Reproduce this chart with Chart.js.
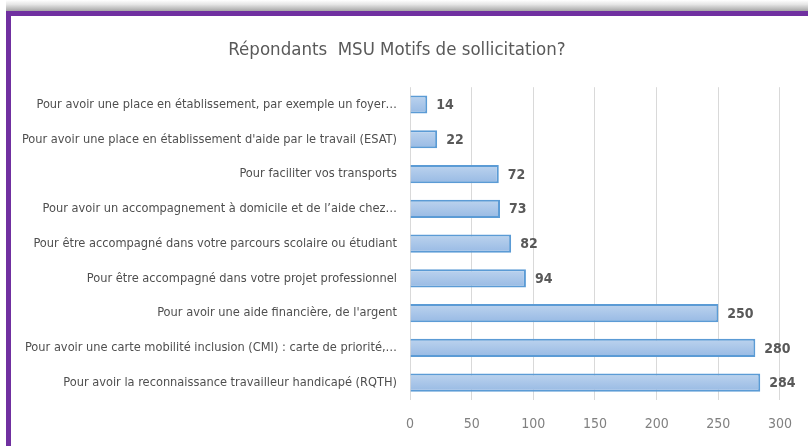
<!DOCTYPE html>
<html lang="fr">
<head>
<meta charset="utf-8">
<title>Répondants MSU Motifs de sollicitation?</title>
<script src="https://cdn.jsdelivr.net/npm/chart.js@4/dist/chart.umd.min.js"></script>
<style>
    html, body { margin: 0; padding: 0; background: #fff; }
    #wrap { position: relative; width: 808px; height: 446px; overflow: hidden; }
    /* grey shadow above the frame */
    #shadow {
        position: absolute; left: 6px; top: 0; width: 802px; height: 11px;
        background: linear-gradient(to bottom, #ffffff 0%, #e6e6e6 40%, #a6a6a6 100%);
    }
    /* purple frame, only top and left edges are visible */
    #frame {
        position: absolute; left: 6px; top: 11px; width: 820px; height: 460px;
        border-top: 5px solid #7030a0; border-left: 5px solid #7030a0;
        box-sizing: border-box; background: #fff;
    }
    #chart { position: absolute; left: 0; top: 0; }
</style>
</head>
<body>
<div id="wrap">
    <div id="shadow"></div>
    <div id="frame"></div>
    <canvas id="chart" width="808" height="446"></canvas>
</div>
<script>
// ========================================
// DATA
// ========================================
const motifs = [
    "Pour avoir une place en établissement, par exemple un foyer…",
    "Pour avoir une place en établissement d'aide par le travail (ESAT)",
    "Pour faciliter vos transports",
    "Pour avoir un accompagnement à domicile et de l’aide chez…",
    "Pour être accompagné dans votre parcours scolaire ou étudiant",
    "Pour être accompagné dans votre projet professionnel",
    "Pour avoir une aide financière, de l'argent",
    "Pour avoir une carte mobilité inclusion (CMI) : carte de priorité,…",
    "Pour avoir la reconnaissance travailleur handicapé (RQTH)"
];
const repondants = [14, 22, 72, 73, 82, 94, 250, 280, 284];
const xTicks = [0, 50, 100, 150, 200, 250, 300];

const FONT = "'Liberation Sans Narrow', 'Arial Narrow', 'DejaVu Sans Condensed', sans-serif";

// ========================================
// PLUGIN - value labels at the end of bars
// ========================================
const valueLabels = {
    id: 'valueLabels',
    afterDatasetsDraw(chart) {
        const ctx = chart.ctx;
        const meta = chart.getDatasetMeta(0);
        ctx.save();
        ctx.font = "bold 14px " + FONT;
        ctx.fillStyle = '#595959';
        ctx.textAlign = 'left';
        ctx.textBaseline = 'middle';
        meta.data.forEach((bar, i) => {
            ctx.fillText(String(repondants[i]), bar.x + 9, bar.y + 1);
        });
        ctx.restore();
    }
};

// vertical gradient inside each bar
function barFill(context) {
    const chart = context.chart;
    if (!chart.chartArea) return '#adc8e8';
    const cy = chart.scales.y.getPixelForValue(context.dataIndex);
    const g = chart.ctx.createLinearGradient(0, cy - 9, 0, cy + 9);
    g.addColorStop(0, '#bcd3ee');
    g.addColorStop(1, '#98bae4');
    return g;
}

new Chart(document.getElementById('chart'), {
    type: 'bar',
    data: {
        labels: motifs,
        datasets: [{
            data: repondants,
            backgroundColor: barFill,
            borderColor: '#5b9bd5',
            borderWidth: 2,
            borderSkipped: 'left',
            barPercentage: 0.52,
            categoryPercentage: 1.0
        }]
    },
    options: {
        indexAxis: 'y',
        responsive: false,
        animation: false,
        devicePixelRatio: 1,
        layout: { padding: { top: 39, left: 8, right: 22, bottom: 14 } },
        plugins: {
            legend: { display: false },
            tooltip: { enabled: false },
            title: {
                display: true,
                text: 'Répondants  MSU Motifs de sollicitation?',
                color: '#595959',
                font: { family: FONT, size: 18.5, weight: 'normal' },
                padding: { top: 0, bottom: 26 }
            }
        },
        scales: {
            x: {
                min: 0,
                max: 300,
                afterBuildTicks(scale) {
                    scale.ticks = xTicks.map(v => ({ value: v }));
                },
                afterFit(scale) { scale.height = 32; },
                grid: { color: '#d9d9d9', lineWidth: 1, drawTicks: false },
                border: { display: false },
                ticks: {
                    color: '#808080',
                    padding: 16,
                    font: { family: FONT, size: 14 }
                }
            },
            y: {
                grid: { display: false, drawTicks: false },
                border: { display: false },
                afterFit(scale) { scale.width = 402; },
                ticks: {
                    color: '#4f4f4f',
                    padding: 13,
                    autoSkip: false,
                    font: { family: FONT, size: 12.7 }
                }
            }
        }
    },
    plugins: [valueLabels]
});
</script>
</body>
</html>
